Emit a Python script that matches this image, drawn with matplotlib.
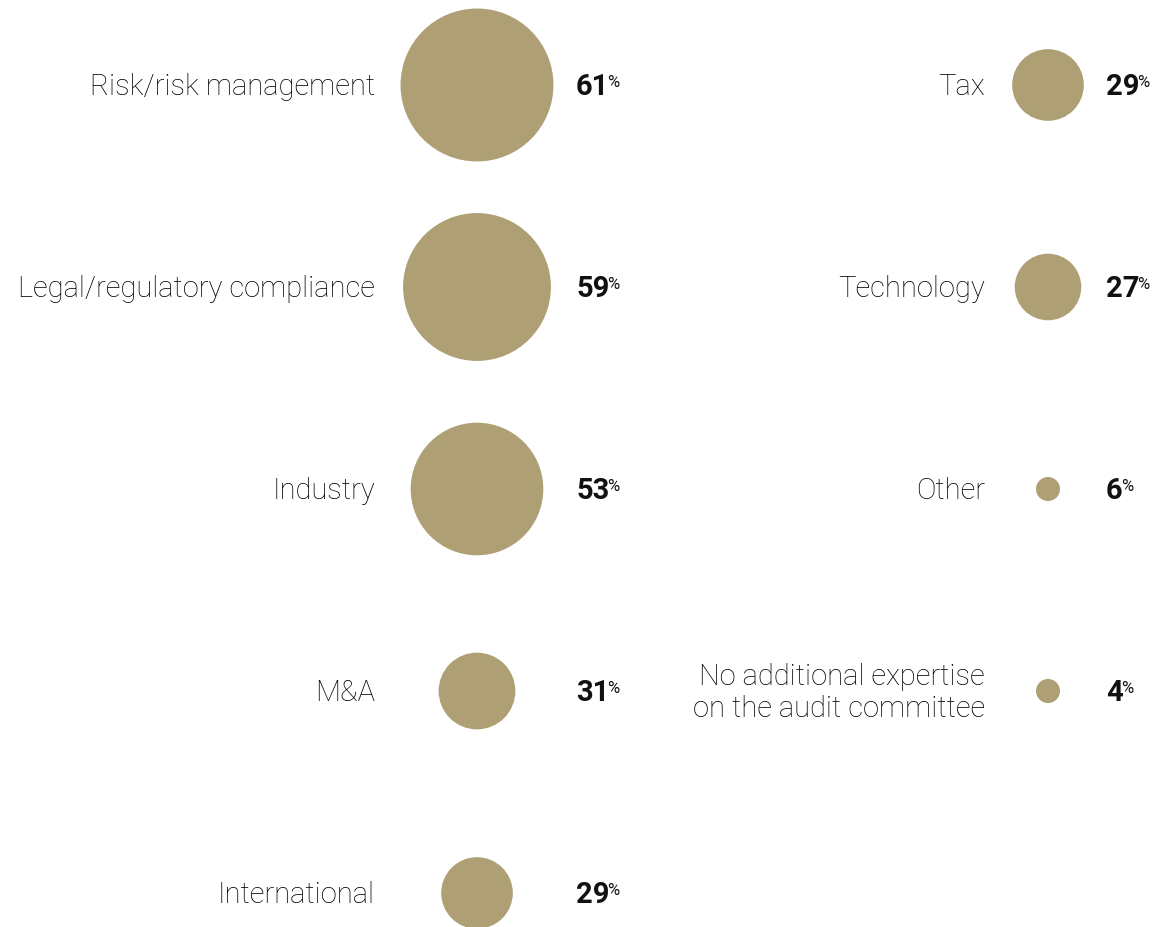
import matplotlib
matplotlib.use("Agg")
import matplotlib.pyplot as plt

# --- Data ---
left_labels = ["Risk/risk management", "Legal/regulatory compliance", "Industry", "M&A", "International"]
left_values = [61, 59, 53, 31, 29]
right_labels = ["Tax", "Technology", "Other", "No additional expertise\non the audit committee"]
right_values = [29, 27, 6, 4]

GOLD = "#ae9f74"
FONT = ["Roboto", "DejaVu Sans"]

def radius(v):
    # bubble radius in pixels, with a floor so tiny values stay visible
    return max(1.27 * v - 1.0, 12.0)

fig = plt.figure(figsize=(11.61, 9.28), dpi=100)
ax = fig.add_axes([0, 0, 1, 1])
ax.set_xlim(0, 1161)
ax.set_ylim(928, 0)
ax.axis("off")

row_y = lambda i: 86 + 202 * i

columns = [
    (left_labels, left_values, 477, 375, 576),
    (right_labels, right_values, 1048, 985, 1106),
]

num_texts = []
for labels, values, cx, lab_x, val_x in columns:
    ys = [row_y(i) for i in range(len(values))]
    sizes = [(2 * radius(v) * 0.72) ** 2 for v in values]
    ax.scatter([cx] * len(values), ys, s=sizes, c=GOLD, linewidths=0, zorder=2)
    for y, lab, v in zip(ys, labels, values):
        ax.text(lab_x, y + 1, lab, ha="right", va="center", fontsize=21,
                family=FONT, fontweight="light", color="#000000",
                linespacing=1.2)
        t = ax.text(val_x, y + 1, str(v), ha="left", va="center", fontsize=21,
                    family=FONT, fontweight="bold", color="#111111")
        num_texts.append(t)

fig.canvas.draw()
r = fig.canvas.get_renderer()
for t in num_texts:
    bb = t.get_window_extent(renderer=r)
    xd, yd = ax.transData.inverted().transform((bb.x1 - 2, bb.y1 - 2))
    ax.text(xd, yd, "%", ha="left", va="top", fontsize=12,
            family=FONT, color="#111111")

fig.savefig("out.png", dpi=100, facecolor="white")
